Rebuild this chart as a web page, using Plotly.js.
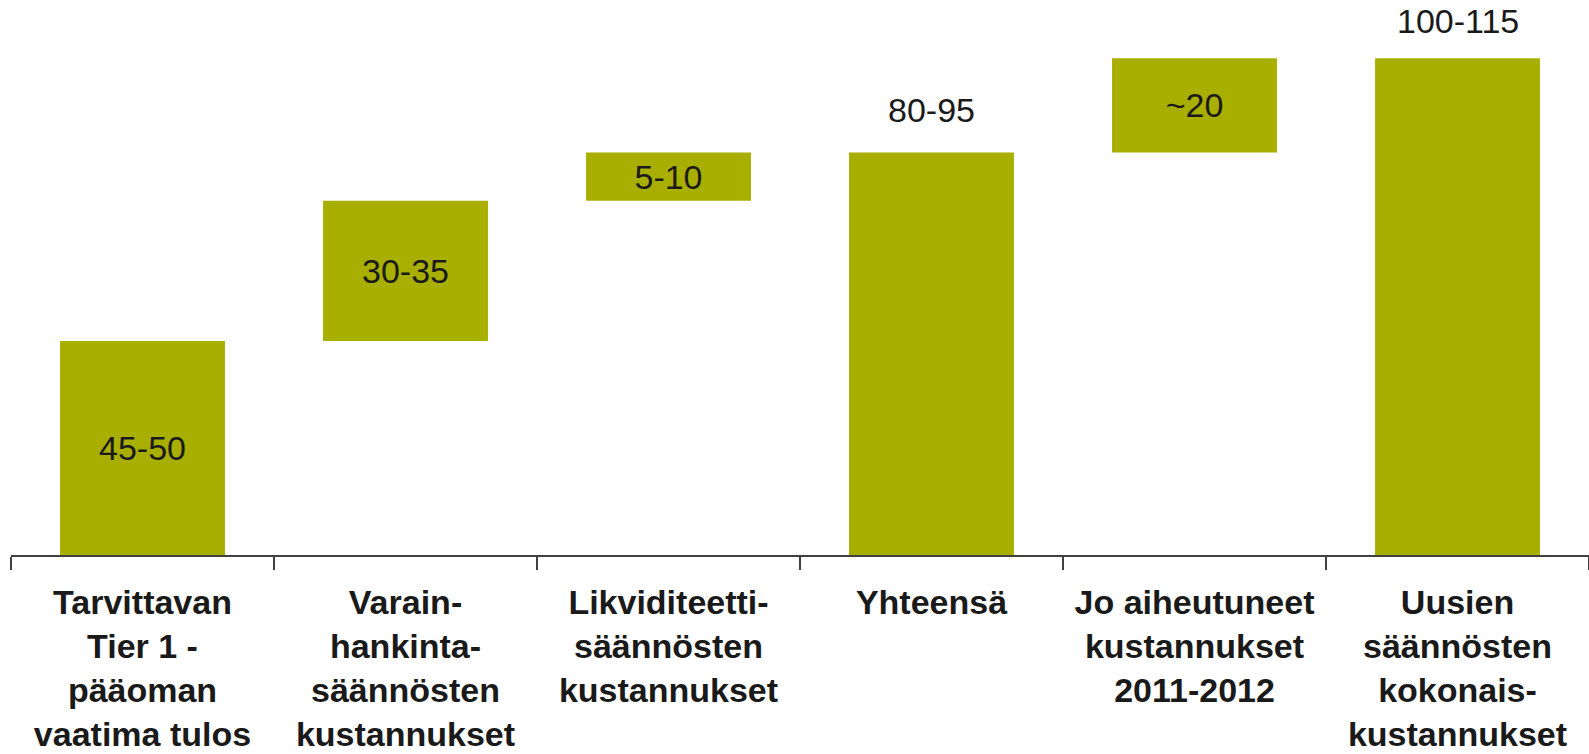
<!DOCTYPE html>
<html>
<head>
<meta charset="utf-8">
<script src="https://cdn.plot.ly/plotly-3.0.1.min.js"></script>
<style>html,body{margin:0;padding:0;background:#fff}#chart{width:1589px;height:754px}</style>
</head>
<body>
<div id="chart"></div>
<script>
const categories = [
  'Tarvittavan<br>Tier 1 -<br>pääoman<br>vaatima tulos',
  'Varain-<br>hankinta-<br>säännösten<br>kustannukset',
  'Likviditeetti-<br>säännösten<br>kustannukset',
  'Yhteensä',
  'Jo aiheutuneet<br>kustannukset<br>2011-2012',
  'Uusien<br>säännösten<br>kokonais-<br>kustannukset'
];
const valueLabels = ['45-50', '30-35', '5-10', '80-95', '~20', '100-115'];
const bases = [0, 46.5, 77, 0, 87.5, 0];
const tops = [46.5, 77, 87.5, 87.5, 108, 108];
const labelInside = [true, true, true, false, true, false];

const heights = tops.map((t, i) => t - bases[i]);
const barColor = '#A9AF00';
const fontFam = '"Liberation Sans", Arial, sans-serif';
const outsideShift = {3: 43, 5: 37};

const trace = {
  type: 'bar',
  x: categories,
  y: heights,
  base: bases,
  marker: {color: barColor, line: {width: 0}},
  text: valueLabels.map((t, i) => labelInside[i] ? t : ''),
  textposition: 'inside',
  insidetextanchor: 'middle',
  constraintext: 'none',
  textfont: {family: fontFam, size: 34, color: '#1a1a1a'},
  hoverinfo: 'none'
};

const annotations = categories
  .map((c, i) => labelInside[i] ? null : {
    x: c, y: tops[i], xref: 'x', yref: 'y',
    text: valueLabels[i], showarrow: false,
    yanchor: 'middle', yshift: outsideShift[i],
    font: {family: fontFam, size: 34, color: '#1a1a1a'}
  })
  .filter(a => a);

const layout = {
  width: 1589, height: 754,
  margin: {l: 11, r: 0, t: 3, b: 199},
  paper_bgcolor: '#ffffff', plot_bgcolor: '#ffffff',
  showlegend: false,
  bargap: 0.373,
  xaxis: {
    type: 'category',
    showline: true, linecolor: '#404040', linewidth: 2,
    ticks: 'outside', tickson: 'boundaries', ticklen: 13, tickwidth: 1.5, tickcolor: '#404040',
    ticklabelstandoff: 16,
    tickfont: {family: fontFam, size: 34, color: '#1a1a1a', weight: 'bold'},
    tickangle: 0,
    showgrid: false, zeroline: false, fixedrange: true
  },
  yaxis: {
    range: [0, 120], visible: false, showgrid: false, zeroline: false, fixedrange: true
  },
  annotations: annotations
};

Plotly.newPlot('chart', [trace], layout, {displayModeBar: false, staticPlot: true});
</script>
</body>
</html>
